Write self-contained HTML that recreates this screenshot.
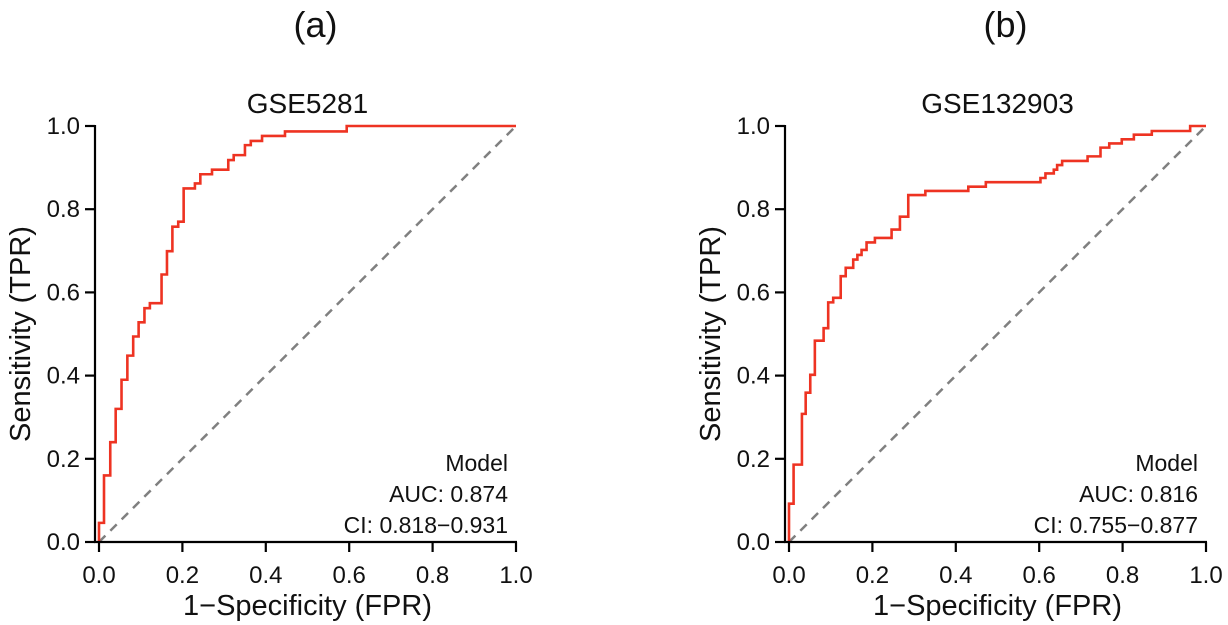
<!DOCTYPE html>
<html><head><meta charset="utf-8"><style>
html,body{margin:0;padding:0;background:#fff;}
svg{display:block;font-family:"Liberation Sans",Arial,sans-serif;}
</style></head><body>
<svg id="c" width="1228" height="625" viewBox="0 0 1228 625" xmlns="http://www.w3.org/2000/svg"></svg>
<script>
const ticks = [0, 0.2, 0.4, 0.6, 0.8, 1.0];
const tickLabels = ["0.0","0.2","0.4","0.6","0.8","1.0"];
const fprA = [0,0.012,0.027,0.04,0.054,0.068,0.082,0.095,0.109,0.122,0.15,0.163,0.176,0.19,0.203,0.23,0.243,0.271,0.31,0.323,0.35,0.364,0.391,0.446,0.594,1.0];
const tprA = [0.046,0.16,0.24,0.32,0.39,0.448,0.494,0.528,0.562,0.574,0.643,0.699,0.758,0.77,0.85,0.862,0.884,0.895,0.918,0.93,0.954,0.964,0.976,0.987,1.0,1.0];
const fprB = [0,0.011,0.031,0.04,0.051,0.062,0.083,0.094,0.106,0.124,0.136,0.154,0.164,0.174,0.186,0.206,0.246,0.266,0.286,0.327,0.43,0.472,0.603,0.615,0.635,0.643,0.655,0.716,0.747,0.768,0.798,0.827,0.87,0.962,1.0];
const tprB = [0.092,0.186,0.308,0.359,0.402,0.484,0.514,0.576,0.587,0.639,0.659,0.679,0.69,0.702,0.72,0.731,0.751,0.782,0.834,0.844,0.854,0.865,0.875,0.886,0.895,0.906,0.916,0.927,0.948,0.958,0.968,0.979,0.988,1.0,1.0];
const panels = [
 {id:"a", label:"(a)", title:"GSE5281", x0:99, auc:"AUC: 0.874", ci:"CI: 0.818\u22120.931", fpr:fprA, tpr:tprA},
 {id:"b", label:"(b)", title:"GSE132903", x0:789, auc:"AUC: 0.816", ci:"CI: 0.755\u22120.877", fpr:fprB, tpr:tprB}
];
const NS="http://www.w3.org/2000/svg";
const svg=document.getElementById('c');
function mk(tag, attrs, parent, text){
  const e=document.createElementNS(NS,tag);
  for(const k in attrs) e.setAttribute(k, attrs[k]);
  if(text!==undefined) e.textContent=text;
  (parent||svg).appendChild(e); return e;
}
const W=417, Y0=542, H=416;
panels.forEach(p=>{
  const sx=v=>p.x0+v*W, sy=v=>Y0-v*H;
  const g=mk('g',{});
  
  
  let t=mk('text',{x:sx(0.5)+8,y:37,'font-size':36,'text-anchor':'middle',fill:'#111'},g,p.label);
   
  t=mk('text',{x:sx(0.5),y:113,'font-size':28,'text-anchor':'middle',fill:'#111'},g,p.title);
   
  let d=mk('line',{x1:sx(0),y1:sy(0),x2:sx(1),y2:sy(1),stroke:'#808080','stroke-width':2.5,'stroke-dasharray':'9,7'},g);
   
  let path='M'+sx(0)+','+sy(0);
  for(let i=0;i<p.fpr.length;i++){ path+=' H'+sx(p.fpr[i])+' V'+sy(p.tpr[i]); }
  let c=mk('path',{d:path,fill:'none',stroke:'#ee3322','stroke-width':2.6,'stroke-linejoin':'miter'},g);
   
  let ya=mk('line',{x1:p.x0-4,y1:sy(1)-1,x2:p.x0-4,y2:Y0+1,stroke:'#000','stroke-width':2.2},g);
   
  let xa=mk('line',{x1:p.x0-5,y1:Y0,x2:sx(1)+1,y2:Y0,stroke:'#000','stroke-width':2.2},g);
   
  ticks.forEach((v,i)=>{
    let tk=mk('line',{x1:sx(v),y1:Y0,x2:sx(v),y2:Y0+10,stroke:'#000','stroke-width':2.2},g);
     
    let tl=mk('text',{x:sx(v),y:Y0+41,'font-size':24,'text-anchor':'middle',fill:'#111'},g,tickLabels[i]);
     
    let yk=mk('line',{x1:p.x0-14,y1:sy(v),x2:p.x0-4,y2:sy(v),stroke:'#000','stroke-width':2.2},g);
     
    let yl=mk('text',{x:p.x0-19,y:sy(v)+8,'font-size':24,'text-anchor':'end',fill:'#111'},g,tickLabels[i]);
     
  });
  let xt=mk('text',{x:sx(0.5),y:615,'font-size':29,'text-anchor':'middle',fill:'#111'},g,'1\u2212Specificity (FPR)');
   
  let yt=mk('text',{x:0,y:0,'font-size':29,'text-anchor':'middle',fill:'#111',transform:'translate('+(p.x0-69)+','+sy(0.5)+') rotate(-90)'},g,'Sensitivity (TPR)');
   
  const lx=sx(1)-8;
  let l1=mk('text',{x:lx,y:471,'font-size':23,'text-anchor':'end',fill:'#111'},g,'Model');
   
  let l2=mk('text',{x:lx,y:502,'font-size':23,'text-anchor':'end',fill:'#111'},g,p.auc);
   
  let l3=mk('text',{x:lx,y:533,'font-size':23,'text-anchor':'end',fill:'#111'},g,p.ci);
   
});
</script>
</body></html>
